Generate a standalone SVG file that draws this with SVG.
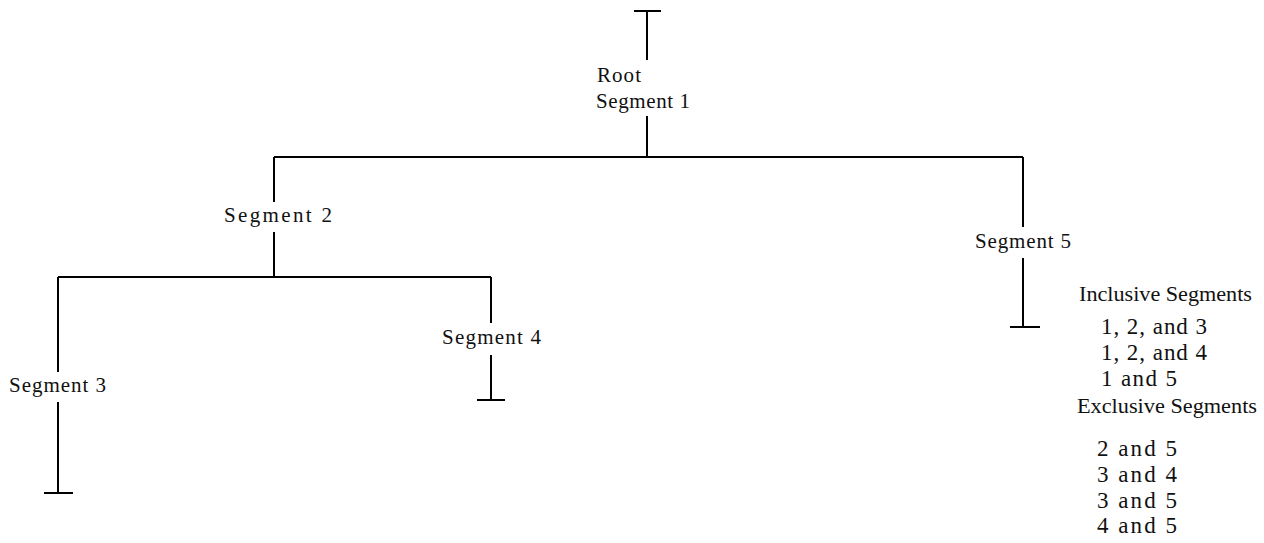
<svg xmlns="http://www.w3.org/2000/svg" width="1264" height="543" viewBox="0 0 1264 543">
<style>
.ln{stroke:#000;stroke-width:2;fill:none}
text{font-family:"Liberation Serif","Times New Roman",serif;font-size:21px;fill:#111}
.hd{font-size:22px}
.lg{font-size:23px}
</style>
<rect width="1264" height="543" fill="#fff"/>
<g id="connectors">
<path class="ln" d="M647 60V11M634 11H661"/>
<path class="ln" d="M647 116V157M274 157H1023"/>
<path class="ln" d="M274 157V202M274 232V277M58 277H491"/>
<path class="ln" d="M58 277V372M58 402V493M44 493H73"/>
<path class="ln" d="M491 277V323M491 355V400M477 400H505"/>
<path class="ln" d="M1023 157V227M1023 258V327M1010 327H1040"/>
</g>
<g id="root"><text x="597" y="82" textLength="44" lengthAdjust="spacing">Root</text><text x="596" y="108" textLength="94" lengthAdjust="spacing">Segment 1</text></g>
<g id="seg2"><text x="224" y="222" textLength="108" lengthAdjust="spacing">Segment 2</text></g>
<g id="seg3"><text x="9" y="392" textLength="97" lengthAdjust="spacing">Segment 3</text></g>
<g id="seg4"><text x="442" y="344" textLength="99" lengthAdjust="spacing">Segment 4</text></g>
<g id="seg5"><text x="975" y="248" textLength="96" lengthAdjust="spacing">Segment 5</text></g>
<g id="legend">
<text class="hd" x="1079" y="301" textLength="173" lengthAdjust="spacingAndGlyphs">Inclusive Segments</text>
<text class="lg" x="1101" y="334" textLength="106" lengthAdjust="spacing">1, 2, and 3</text>
<text class="lg" x="1101" y="360" textLength="106" lengthAdjust="spacing">1, 2, and 4</text>
<text class="lg" x="1101" y="386" textLength="76" lengthAdjust="spacing">1 and 5</text>
<text class="hd" x="1077" y="413" textLength="180" lengthAdjust="spacingAndGlyphs">Exclusive Segments</text>
<text class="lg" x="1097" y="456" textLength="80" lengthAdjust="spacing">2 and 5</text>
<text class="lg" x="1097" y="482" textLength="80" lengthAdjust="spacing">3 and 4</text>
<text class="lg" x="1097" y="508" textLength="80" lengthAdjust="spacing">3 and 5</text>
<text class="lg" x="1097" y="533" textLength="80" lengthAdjust="spacing">4 and 5</text>
</g>
</svg>
